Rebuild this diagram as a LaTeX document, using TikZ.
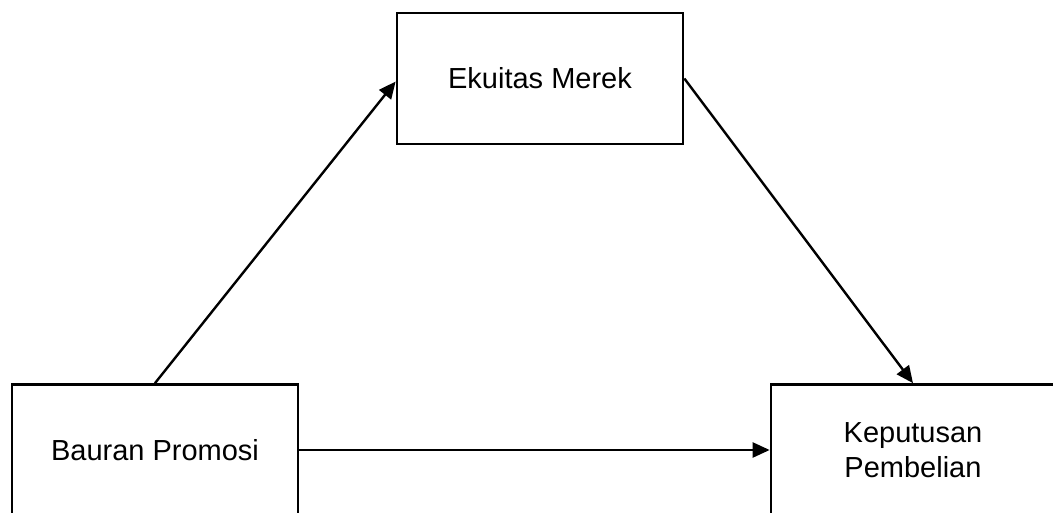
\documentclass[tikz,border=0pt]{standalone}
\usepackage{fontspec}
\setmainfont{Liberation Sans}
\usetikzlibrary{arrows.meta}
\begin{document}
\begin{tikzpicture}[x=1pt,y=-1pt,
  box/.style={draw=black,line width=2.7pt,fill=white,inner sep=0pt,minimum width=286pt,minimum height=131pt,align=center,font=\fontsize{29}{35}\selectfont},
  conn/.style={draw=black,line width=2.4pt,-{Triangle[length=17pt,width=15pt]}}]
\useasboundingbox (0,0) rectangle (1053,513);
\clip (0,0) rectangle (1053,513);
\fill[white] (0,0) rectangle (1053,513);
\node[box] (tb) at (540,78.5) {Ekuitas Merek};
\node[box] (lb) at (155,450) {Bauran Promosi};
\node[box,minimum width=284pt] (rb) at (913,450) {Keputusan\\Pembelian};
\draw[conn] (lb.north) -- ([yshift=-3pt]tb.west);
\draw[conn] (tb.east) -- (rb.north);
\draw[conn] (lb.east) -- (rb.west);
\end{tikzpicture}
\end{document}
